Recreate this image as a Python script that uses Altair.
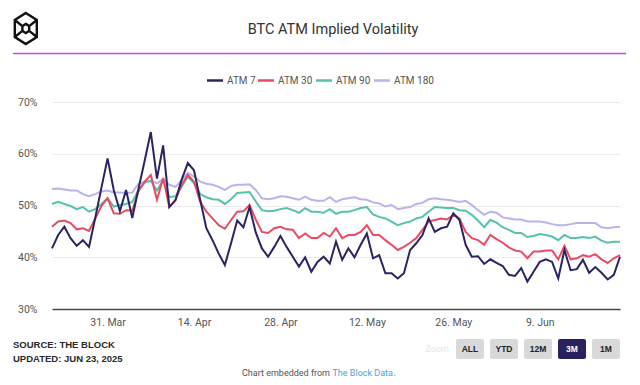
import altair as alt
import pandas as pd

# ---------------- data ----------------
start_date = "2025-03-22"
end_date = "2025-06-22"
series_names = ["ATM 7", "ATM 30", "ATM 90", "ATM 180"]
series_colors = ["#2b2462", "#e84b62", "#55c2a9", "#b9b2ef"]

atm7 = [41.7, 44.3, 45.9, 43.7, 42.2, 43.3, 42.0, 47.6, 53.4, 59.1,
        53.0, 48.9, 53.0, 47.6, 53.2, 58.6, 64.2, 55.2, 61.6, 49.7,
        51.0, 55.0, 58.2, 56.8, 51.1, 45.6, 43.3, 40.7, 38.5, 42.7,
        47.1, 45.8, 49.7, 44.8, 41.7, 40.1, 42.0, 44.1, 42.0, 40.1,
        38.2, 40.0, 37.2, 39.1, 40.1, 38.8, 43.0, 39.5, 41.7, 40.0,
        42.4, 44.6, 39.8, 40.4, 36.9, 36.9, 35.9, 36.9, 41.4, 42.7,
        44.3, 47.5, 44.9, 45.6, 45.9, 48.5, 47.2, 42.4, 40.1, 40.2,
        38.7, 39.6, 38.9, 38.3, 36.6, 36.4, 37.9, 35.3, 37.2, 39.1,
        39.6, 39.1, 35.9, 41.4, 37.5, 37.7, 39.5, 37.0, 38.1, 37.0,
        35.7, 36.6, 40.1]
atm30 = [45.9, 46.9, 47.1, 46.6, 45.4, 45.6, 45.1, 47.5, 49.9, 51.4,
         48.5, 48.4, 49.1, 49.0, 52.7, 54.6, 55.9, 51.1, 55.3, 49.7,
         51.1, 54.0, 55.9, 54.6, 50.7, 48.8, 47.5, 46.2, 45.5, 47.2,
         48.8, 48.9, 50.1, 47.3, 44.9, 44.7, 45.6, 45.9, 45.4, 45.3,
         43.7, 44.6, 43.7, 43.7, 44.7, 44.0, 45.6, 43.7, 44.3, 44.3,
         44.9, 46.2, 44.3, 44.3, 43.3, 42.4, 41.4, 42.0, 42.8, 43.7,
         45.3, 46.9, 47.2, 47.5, 47.3, 48.2, 47.5, 44.9, 43.7, 43.3,
         42.4, 44.3, 43.5, 42.8, 41.9, 41.3, 41.1, 39.8, 41.1, 41.1,
         41.3, 41.3, 39.6, 42.2, 39.6, 39.8, 40.4, 40.1, 40.6, 39.6,
         38.9, 39.8, 40.4]
atm90 = [50.3, 50.7, 50.3, 49.9, 49.3, 49.7, 48.8, 49.3, 50.3, 51.4,
         49.8, 50.1, 50.3, 50.7, 53.0, 54.4, 54.8, 52.9, 54.9, 51.6,
         51.8, 53.6, 55.6, 54.3, 52.2, 51.6, 51.2, 51.1, 50.3, 51.2,
         52.4, 52.5, 52.6, 50.8, 49.1, 48.9, 49.0, 49.3, 49.5, 49.1,
         48.6, 49.5, 48.8, 48.8, 48.6, 49.3, 48.4, 48.8, 48.8, 49.1,
         49.5, 49.7, 48.3, 47.8, 47.5, 46.9, 46.2, 46.6, 46.9, 47.5,
         47.8, 48.8, 49.7, 49.6, 49.5, 49.5, 49.1, 49.0, 48.2, 47.1,
         45.8, 47.2, 46.7, 45.8, 45.3, 44.7, 44.7, 43.9, 44.1, 44.5,
         44.3, 44.0, 43.3, 44.3, 43.7, 43.7, 43.9, 43.7, 44.0, 43.2,
         42.8, 43.0, 43.0]
atm180 = [53.2, 53.3, 53.1, 52.9, 52.9, 52.2, 51.8, 52.2, 52.7, 52.9,
          52.5, 52.5, 52.4, 52.5, 54.2, 54.6, 54.8, 54.3, 55.1, 54.0,
          53.6, 54.9, 56.3, 55.6, 54.6, 54.2, 54.0, 53.6, 53.0, 53.8,
          54.0, 54.0, 54.1, 53.0, 51.4, 51.2, 51.4, 51.8, 51.7, 51.4,
          51.1, 51.7, 51.1, 50.9, 50.9, 51.6, 50.7, 51.2, 51.4, 51.6,
          51.2, 51.1, 50.6, 50.4, 49.8, 50.1, 49.3, 49.5, 49.7, 50.3,
          50.5, 51.2, 51.4, 51.2, 51.1, 50.9, 50.7, 50.9, 50.1, 49.1,
          48.2, 48.8, 48.6, 47.7, 47.5, 47.3, 47.3, 46.9, 46.9, 46.9,
          46.7, 46.4, 46.2, 46.2, 46.4, 46.6, 46.6, 46.6, 46.6, 45.8,
          45.6, 45.8, 45.9]

tick_dates = ["2025-03-31", "2025-04-14", "2025-04-28", "2025-05-12",
              "2025-05-26", "2025-06-09"]
y_ticks = [30, 40, 50, 60, 70]
buttons = ["ALL", "YTD", "12M", "3M", "1M"]
active_button = "3M"

title_text = "BTC ATM Implied Volatility"
source_text = "SOURCE: THE BLOCK"
updated_text = "UPDATED: JUN 23, 2025"
embed_text = "Chart embedded from"
link_text = "The Block Data"

# ---------------- table ----------------
dates = pd.date_range(start_date, periods=len(atm7), freq="D")
rows = []
for name, vals in zip(series_names, [atm7, atm30, atm90, atm180]):
    for d, v in zip(dates, vals):
        rows.append({"date": d.strftime("%Y-%m-%dT00:00:00"), "series": name, "value": v})
df = pd.DataFrame(rows)
one = pd.DataFrame({"k": [0]})


def dt(s):
    y, m, d = map(int, s.split("-"))
    return alt.DateTime(year=y, month=m, date=d)


FONT = "Roboto"
OX, OY = 52, 102  # page position of plot origin

x_enc = alt.X(
    "date:T", title=None,
    scale=alt.Scale(domain=[dt(start_date), dt(end_date)], nice=False),
    axis=alt.Axis(values=[dt(s) for s in tick_dates], format="%-d. %b",
                  grid=False, ticks=False, domain=True, domainColor="#4a4a4a",
                  domainWidth=1.5, labelFont=FONT, labelFontSize=10.5,
                  labelColor="#555555", labelPadding=8, labelFlush=False),
)
y_enc = alt.Y(
    "value:Q", title=None,
    scale=alt.Scale(domain=[30, 70], nice=False, zero=False),
    axis=alt.Axis(values=y_ticks, labelExpr="datum.value + '%'", grid=True,
                  gridColor="#ececec", gridWidth=1, ticks=False, domain=False,
                  labelFont=FONT, labelFontSize=10.5, labelColor="#555555",
                  labelPadding=15),
)
color_enc = alt.Color(
    "series:N",
    scale=alt.Scale(domain=series_names, range=series_colors),
    legend=None,
)

lines = []
for name in reversed(series_names):
    lines.append(
        alt.Chart(df).transform_filter(alt.datum.series == name)
        .mark_line(strokeWidth=2, interpolate="linear")
        .encode(x=x_enc, y=y_enc, color=color_enc)
    )


def txt(text, ax, ay, **kw):
    return alt.Chart(one).mark_text(**kw).encode(
        x=alt.value(ax - OX), y=alt.value(ay - OY), text=alt.value(text))


decor = []
# logo
logo_path = ("M0,-1L0.71,-0.55L0.71,0.55L0,1L-0.71,0.55L-0.71,-0.55Z"
             "M0,-0.3L0.22,-0.15L0.22,0.15L0,0.3L-0.22,0.15L-0.22,-0.15Z"
             "M-0.71,-0.55L-0.22,-0.15M0.71,-0.55L0.22,-0.15"
             "M-0.71,0.55L-0.22,0.15M0.71,0.55L0.22,0.15")
decor.append(alt.Chart(one).mark_point(shape=logo_path, size=961, filled=False,
                                       stroke="#111111", strokeWidth=2.4, opacity=1)
             .encode(x=alt.value(25.8 - OX), y=alt.value(28.5 - OY)))
# title
decor.append(txt(title_text, 333, 30, font=FONT, fontSize=14.5, color="#333333",
                 align="center", baseline="middle"))
# purple separator
decor.append(alt.Chart(one).mark_rule(color="#b44dff", strokeWidth=1.5).encode(
    x=alt.value(13 - OX), x2=alt.value(626 - OX), y=alt.value(53.5 - OY)))
# legend (line swatch + label per series)
legend_starts = [207, 258, 316, 374]
for name, col, lx in zip(series_names, series_colors, legend_starts):
    decor.append(alt.Chart(one).mark_rule(color=col, strokeWidth=2.5).encode(
        x=alt.value(lx - OX), x2=alt.value(lx + 16 - OX), y=alt.value(80.5 - OY)))
    decor.append(txt(name, lx + 20, 80.5, font=FONT, fontSize=10, color="#555555",
                     align="left", baseline="middle"))
# footer
decor.append(txt(source_text, 13, 345, font="Liberation Sans", fontSize=9.5,
                 fontWeight="bold", color="#2a2a2a", align="left", baseline="middle"))
decor.append(txt(updated_text, 13, 359, font="Liberation Sans", fontSize=9.5,
                 fontWeight="bold", color="#2a2a2a", align="left", baseline="middle"))
decor.append(txt(embed_text, 330, 373, font=FONT, fontSize=9, color="#555555",
                 align="right", baseline="middle"))
decor.append(txt(link_text, 332.5, 373, font=FONT, fontSize=9, color="#4aa0d8",
                 align="left", baseline="middle"))
decor.append(txt(".", 393.5, 373, font=FONT, fontSize=9, color="#555555",
                 align="left", baseline="middle"))
decor.append(alt.Chart(one).mark_rule(color="#4aa0d8", strokeWidth=0.8).encode(
    x=alt.value(332.5 - OX), x2=alt.value(392 - OX), y=alt.value(377.5 - OY)))
decor.append(txt("Zoom", 449, 349, font=FONT, fontSize=9, color="#e6e6e6",
                 align="right", baseline="middle"))
# range buttons
for i, b in enumerate(buttons):
    bx = 456 + 34 * i
    active = b == active_button
    decor.append(alt.Chart(one).mark_rect(cornerRadius=2,
                                          fill="#2b2161" if active else "#d9d9d9")
                 .encode(x=alt.value(bx - OX), x2=alt.value(bx + 28 - OX),
                         y=alt.value(339 - OY), y2=alt.value(359 - OY)))
    decor.append(txt(b, bx + 14, 349, font="Liberation Sans", fontSize=8.5,
                     fontWeight="bold", color="#ffffff" if active else "#222222",
                     align="center", baseline="middle"))

chart = alt.layer(*decor, *lines).properties(
    width=568, height=207,
    autosize=alt.AutoSizeParams(type="none"),
    padding={"left": 44, "top": 94, "right": 12, "bottom": 68},
    background="#ffffff",
).configure_view(strokeWidth=0)

chart.save("out.html", embed_options={"renderer": "svg", "actions": False})
